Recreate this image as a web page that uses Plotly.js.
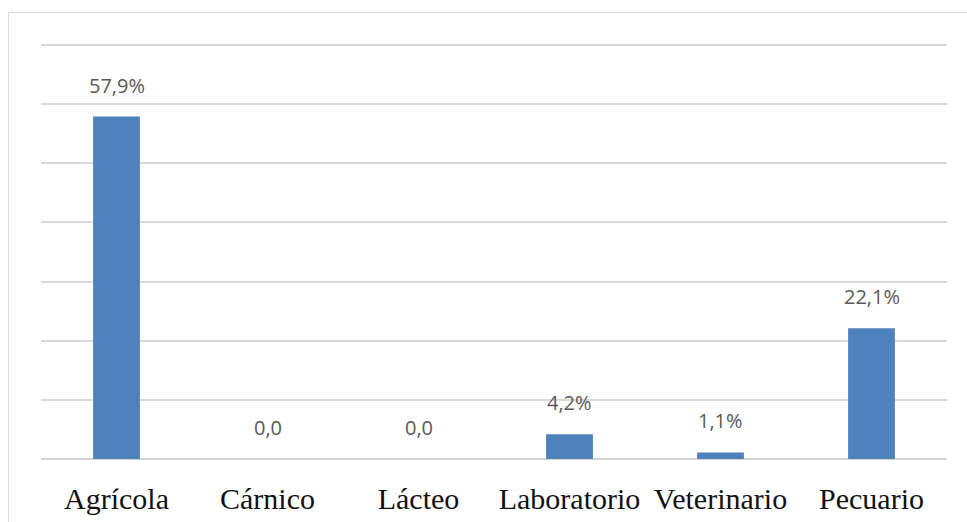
<!DOCTYPE html>
<html>
<head>
<meta charset="utf-8">
<script src="https://cdn.plot.ly/plotly-3.0.1.min.js"></script>
<style>
html,body{margin:0;padding:0;background:#fff;overflow:hidden;}
#frame{position:absolute;left:8px;top:12px;width:1100px;height:700px;border:1.5px solid #dcdcdc;box-sizing:border-box;}
#chart{position:absolute;left:0;top:0;width:967px;height:522px;}
</style>
</head>
<body>
<div id="frame"></div>
<div id="chart"></div>
<script>
const categories = ["Agrícola", "Cárnico", "Lácteo", "Laboratorio", "Veterinario", "Pecuario"];
const values = [57.9, 0.0, 0.0, 4.2, 1.1, 22.1];
const valueLabels = ["57,9%", "0,0", "0,0", "4,2%", "1,1%", "22,1%"];
const yTicks = [0, 10, 20, 30, 40, 50, 60, 70];

const trace = {
  type: "bar",
  x: categories,
  y: values,
  marker: {color: "#4f81bd"},
  hoverinfo: "skip"
};

const annotations = categories.map((c, i) => ({
  x: c, y: values[i], xref: "x", yref: "y",
  text: valueLabels[i], showarrow: false,
  yanchor: "bottom", yshift: 16,
  font: {family: "Open Sans, Liberation Sans, sans-serif", size: 20, color: "#595959"}
}));

const layout = {
  width: 967, height: 522,
  margin: {l: 41, r: 20, t: 44, b: 63},
  paper_bgcolor: "rgba(0,0,0,0)",
  plot_bgcolor: "rgba(0,0,0,0)",
  bargap: 0.69,
  showlegend: false,
  xaxis: {
    type: "category",
    showgrid: false, showline: false, zeroline: false, ticks: "",
    tickfont: {family: "Liberation Serif, Times New Roman, serif", size: 30, color: "#111"},
    ticklabelstandoff: 19
  },
  yaxis: {
    range: [0, 70.17], tickvals: yTicks, showticklabels: false,
    showgrid: true, gridcolor: "#d9d9d9", gridwidth: 2,
    zeroline: true, zerolinecolor: "#d4d4d4", zerolinewidth: 2,
    fixedrange: true
  },
  annotations: annotations
};

Plotly.newPlot("chart", [trace], layout, {staticPlot: true, displayModeBar: false});
</script>
</body>
</html>
